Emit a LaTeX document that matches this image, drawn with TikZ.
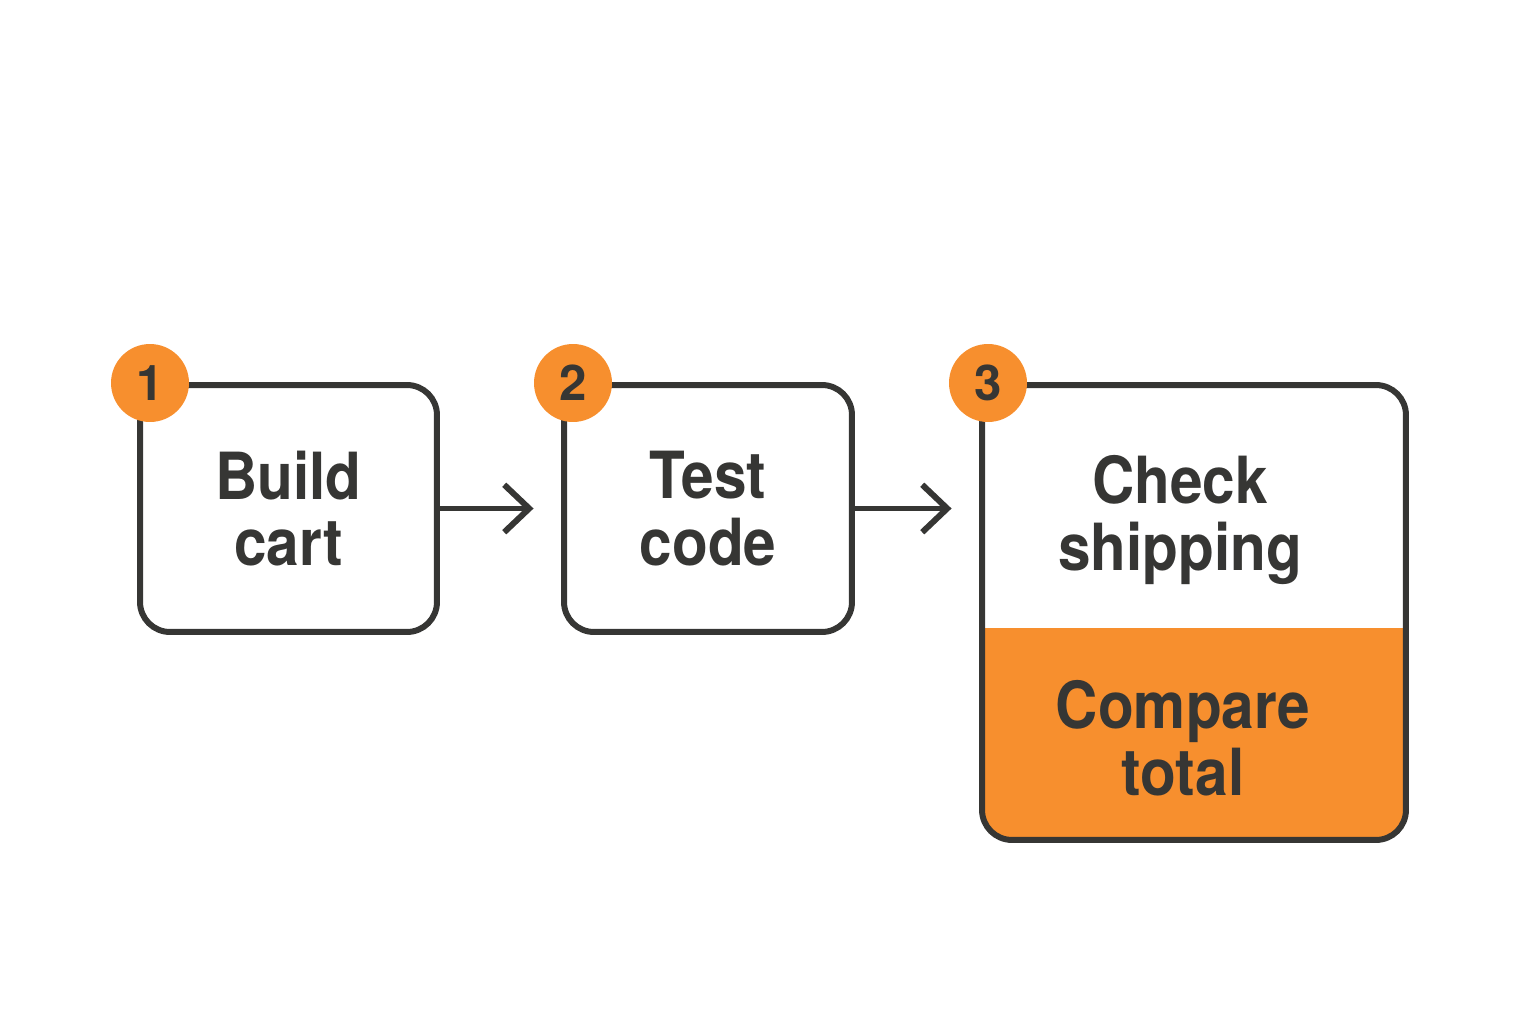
\documentclass[tikz,border=0pt]{standalone}
\usepackage{fontspec}
\setmainfont{TeX Gyre Heros}[FakeStretch=0.9]
\newfontfamily\badgefont{TeX Gyre Heros}
\usetikzlibrary{arrows.meta}
\definecolor{inkgray}{HTML}{363634}
\definecolor{steporange}{HTML}{F78F2E}

\begin{document}
\begin{tikzpicture}[x=0.02cm, y=-0.02cm,
  stepbox/.style={draw=inkgray, line width=3.4pt, rounded corners=0.6cm, align=center, text=inkgray, font=\fontsize{37}{38}\selectfont\bfseries},
  steptext/.style={align=center, text=inkgray, font=\fontsize{37}{38}\selectfont\bfseries},
  badge/.style={circle, fill=steporange, minimum size=1.56cm, inner sep=0pt, text=inkgray, font=\badgefont\fontsize{28}{28}\selectfont\bfseries},
  flow/.style={draw=inkgray, line width=3.4pt, -{Straight Barb[length=0.5cm, width=0.95cm]}, shorten >=0.55cm}]
  \useasboundingbox (0,0) rectangle (1536,1024);

  % the three steps
  \node[stepbox, minimum width=5.94cm, minimum height=4.94cm] (build) at (288.5,508.5) {Build\\cart};
  \node[stepbox, minimum width=5.76cm, minimum height=4.94cm] (test) at (708,508.5) {Test\\code};
  \node[stepbox, minimum width=8.48cm, minimum height=9.1cm,
    path picture={\fill[steporange, sharp corners] (path picture bounding box.south west) rectangle ([yshift=4.24cm]path picture bounding box.south east);}] (ship) at (1194,612.5) {}; % lower part is orange
  \node[steptext] (check) at (1180,520) {Check\\shipping};
  \node[steptext] (compare) at (1183,738) {Compare\\total};

  % step numbers
  \node[badge] (n1) at (150,383) {1};
  \node[badge] (n2) at (573,383) {2};
  \node[badge] (n3) at (988,383) {3};

  % arrows between steps
  \draw[flow] (build) -- (test);
  \draw[flow] (test) -- (ship.west |- test);
\end{tikzpicture}
\end{document}
